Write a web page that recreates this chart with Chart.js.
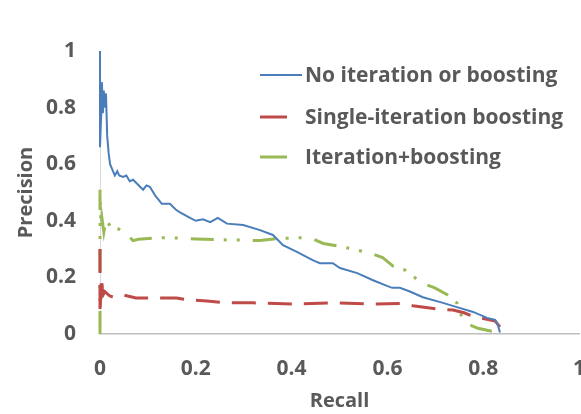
<!DOCTYPE html>
<html>
<head>
<meta charset="utf-8">
<script src="https://cdn.jsdelivr.net/npm/chart.js@4"></script>
<style>
  html, body { margin: 0; padding: 0; background: #fff; }
  canvas { display: block; }
</style>
</head>
<body>
<canvas id="prChart" width="581" height="414"></canvas>
<script>
// series names
var seriesNames = ['No iteration or boosting', 'Single-iteration boosting', 'Iteration+boosting'];

// No iteration or boosting
var blueRecall = [0, 0, 0.003, 0.004, 0.006, 0.008, 0.010, 0.0125, 0.015, 0.018, 0.021, 0.026, 0.031, 0.036, 0.040, 0.048, 0.055, 0.062, 0.069, 0.078, 0.090, 0.097, 0.104, 0.115, 0.129, 0.146, 0.158, 0.167, 0.188, 0.200, 0.215, 0.230, 0.246, 0.265, 0.299, 0.334, 0.361, 0.382, 0.411, 0.445, 0.459, 0.486, 0.501, 0.537, 0.570, 0.599, 0.610, 0.626, 0.647, 0.674, 0.716, 0.745, 0.779, 0.808, 0.825, 0.831, 0.835];
var bluePrecision = [1.00, 0.66, 0.80, 0.89, 0.78, 0.86, 0.80, 0.85, 0.70, 0.64, 0.60, 0.58, 0.56, 0.575, 0.56, 0.555, 0.56, 0.54, 0.545, 0.53, 0.51, 0.525, 0.52, 0.49, 0.46, 0.46, 0.44, 0.43, 0.41, 0.40, 0.405, 0.395, 0.41, 0.39, 0.385, 0.367, 0.35, 0.314, 0.29, 0.26, 0.25, 0.25, 0.233, 0.215, 0.19, 0.17, 0.163, 0.163, 0.15, 0.13, 0.11, 0.095, 0.078, 0.057, 0.05, 0.03, 0.005];

// Single-iteration boosting
var redRecall = [0, 0, 0.003, 0.005, 0.007, 0.010, 0.020, 0.028, 0.048, 0.075, 0.120, 0.160, 0.188, 0.223, 0.265, 0.320, 0.410, 0.486, 0.570, 0.626, 0.653, 0.704, 0.737, 0.760, 0.779, 0.800, 0.825, 0.835];
var redPrecision = [0.30, 0.07, 0.20, 0.16, 0.14, 0.15, 0.135, 0.13, 0.138, 0.127, 0.127, 0.127, 0.12, 0.117, 0.11, 0.11, 0.106, 0.11, 0.106, 0.108, 0.10, 0.088, 0.085, 0.075, 0.062, 0.055, 0.046, 0.025];

// Iteration+boosting
var greenRecall = [0, 0, 0.002, 0.004, 0.008, 0.012, 0.018, 0.025, 0.030, 0.040, 0.048, 0.060, 0.069, 0.080, 0.120, 0.150, 0.200, 0.250, 0.286, 0.334, 0.370, 0.418, 0.445, 0.466, 0.500, 0.528, 0.564, 0.590, 0.612, 0.637, 0.672, 0.699, 0.724, 0.745, 0.752, 0.762, 0.789, 0.818];
var greenPrecision = [0.00, 0.51, 0.38, 0.41, 0.36, 0.40, 0.39, 0.37, 0.375, 0.37, 0.365, 0.345, 0.33, 0.335, 0.34, 0.34, 0.336, 0.333, 0.332, 0.33, 0.337, 0.34, 0.335, 0.32, 0.31, 0.30, 0.286, 0.27, 0.24, 0.226, 0.18, 0.163, 0.14, 0.11, 0.074, 0.04, 0.02, 0.01];

var axisTicks = [0, 0.2, 0.4, 0.6, 0.8, 1];

var textColor = '#595959';
var fontFamily = '"Open Sans", sans-serif';

function toPoints(xs, ys) {
    var pts = [];
    for (var i = 0; i < xs.length; i++) {
        pts.push({ x: xs[i], y: ys[i] });
    }
    return pts;
}

// legend drawn inside the plot, like the original
var insideLegend = {
    id: 'insideLegend',
    afterDraw: function (chart) {
        var ctx = chart.ctx;
        var rows = [
            { y: 75, x0: 260, x1: 302 },
            { y: 117, x0: 260, x1: 287 },
            { y: 157, x0: 260, x1: 287 }
        ];
        ctx.save();
        ctx.font = 'bold 21px ' + fontFamily;
        ctx.textBaseline = 'middle';
        ctx.fillStyle = textColor;
        chart.data.datasets.forEach(function (ds, i) {
            var r = rows[i];
            ctx.strokeStyle = ds.borderColor;
            ctx.lineWidth = ds.borderWidth;
            ctx.setLineDash([]);
            ctx.beginPath();
            ctx.moveTo(r.x0, r.y);
            ctx.lineTo(r.x1, r.y);
            ctx.stroke();
            ctx.fillText(ds.label, 305, r.y + 1);
        });
        ctx.restore();
    }
};

function tickText(v) {
    return String(Math.round(v * 10) / 10);
}

var tickFont = { family: fontFamily, size: 21, weight: 'bold' };

var config = {
    type: 'scatter',
    data: {
        datasets: [{
            label: seriesNames[0],
            data: toPoints(blueRecall, bluePrecision),
            showLine: true,
            borderColor: '#4A7EBB',
            borderWidth: 2,
            pointRadius: 0,
            tension: 0,
            clip: 4
        }, {
            label: seriesNames[1],
            data: toPoints(redRecall, redPrecision),
            showLine: true,
            borderColor: '#BE4B48',
            borderWidth: 3,
            borderDash: [24, 12],
            pointRadius: 0,
            tension: 0,
            clip: 4
        }, {
            label: seriesNames[2],
            data: toPoints(greenRecall, greenPrecision),
            showLine: true,
            borderColor: '#98B954',
            borderWidth: 3,
            borderDash: [23, 10, 3, 10, 3, 13],
            pointRadius: 0,
            tension: 0,
            clip: 4
        }]
    },
    options: {
        responsive: false,
        animation: false,
        layout: { padding: { top: 51, right: 2, left: 0, bottom: 0 } },
        plugins: {
            legend: { display: false },
            tooltip: { enabled: false }
        },
        scales: {
            x: {
                type: 'linear',
                min: 0,
                max: 1,
                afterBuildTicks: function (s) {
                    s.ticks = axisTicks.map(function (v) { return { value: v }; });
                },
                afterFit: function (s) {
                    s.height = 80;
                    s.paddingLeft = 0;
                    s.paddingRight = 0;
                },
                grid: { display: false, drawTicks: false },
                border: { display: true, color: '#BFBFBF', width: 1.5 },
                ticks: {
                    padding: 22,
                    color: textColor,
                    font: tickFont,
                    callback: tickText
                },
                title: {
                    display: true,
                    text: 'Recall',
                    color: textColor,
                    padding: { top: 0, bottom: 1 },
                    font: { family: fontFamily, size: 20, weight: 'bold' }
                }
            },
            y: {
                type: 'linear',
                min: 0,
                max: 1,
                afterBuildTicks: function (s) {
                    s.ticks = axisTicks.map(function (v) { return { value: v }; });
                },
                afterFit: function (s) {
                    s.width = 100;
                    s.paddingTop = 0;
                    s.paddingBottom = 0;
                },
                grid: { display: false, drawTicks: false },
                border: { display: true, color: '#D9D9D9', width: 1 },
                ticks: {
                    padding: 24,
                    color: textColor,
                    font: tickFont,
                    callback: tickText
                },
                title: {
                    display: true,
                    text: 'Precision',
                    color: textColor,
                    padding: { top: 14, bottom: 0 },
                    font: { family: fontFamily, size: 20, weight: 'bold' }
                }
            }
        }
    },
    plugins: [insideLegend]
};

var prChart = new Chart(document.getElementById('prChart'), config);
</script>
</body>
</html>
